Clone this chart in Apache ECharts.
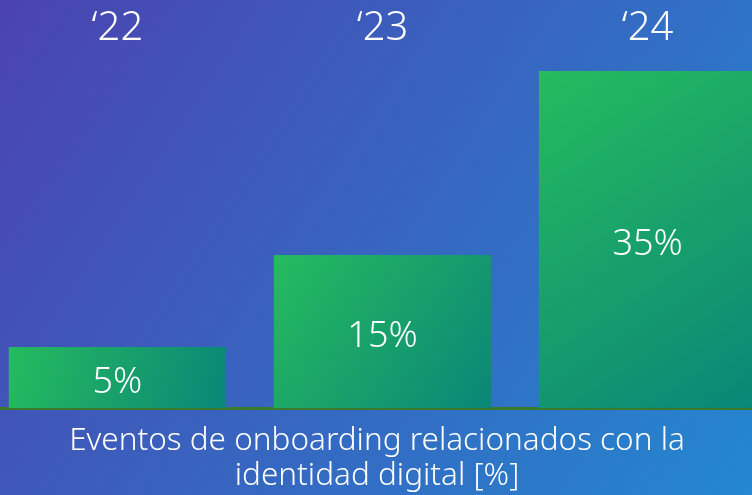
<!DOCTYPE html>
<html lang="es">
<head>
    <meta charset="UTF-8">
    <title>onboarding</title>
    <script src="https://cdn.jsdelivr.net/npm/echarts@6/dist/echarts.min.js"></script>
    <style>
        html,body{margin:0;padding:0;overflow:hidden}
        #chart{width:752px;height:495px}
    </style>
</head>
<body>
    <div id="chart"></div>
    <script>
        var years = ['\u201822', '\u201823', '\u201824'];
        var values = [5, 15, 35];
        var caption = 'Eventos de onboarding relacionados con la\nidentidad digital [%]';

        var fontFam = '"Noto Sans", "Open Sans", sans-serif';
        var mychart = echarts.init(document.getElementById('chart'));

        //barras desde el minimo del eje hasta el valor, con el año arriba
        function renderBar(params, api) {
            var i = api.value(0);
            var top = api.coord([i, api.value(1)]);
            var bottom = api.coord([i, -1.63]);
            var w = api.size([0.82, 0])[0];
            return {
                type: 'group',
                children: [
                    {
                        type: 'rect',
                        shape: {x: top[0] - w / 2, y: top[1], width: w, height: bottom[1] - top[1]},
                        style: {
                            fill: new echarts.graphic.LinearGradient(0, 0, 1, 1, [
                                {offset: 0, color: '#26bb5e'},
                                {offset: 1, color: '#0a8678'}
                            ])
                        },
                        textContent: {
                            style: {
                                text: api.value(1) + '%',
                                fill: '#ffffff',
                                fontSize: 36,
                                fontWeight: 300,
                                fontFamily: fontFam
                            }
                        },
                        textConfig: {position: 'inside', offset: [0, 5]}
                    },
                    {
                        type: 'text',
                        x: top[0],
                        y: 29,
                        style: {
                            text: years[i],
                            fill: '#ffffff',
                            fontSize: 40,
                            fontWeight: 300,
                            fontFamily: fontFam,
                            align: 'center',
                            verticalAlign: 'middle'
                        }
                    }
                ]
            };
        }

        var option = {
            backgroundColor: {
                type: 'linear', x: 0, y: 0, x2: 1, y2: 1,
                colorStops: [
                    {offset: 0, color: '#4b43b0'},
                    {offset: 1, color: '#2487cf'}
                ]
            },
            title: {
                text: caption,
                left: 372,
                top: 419,
                textAlign: 'center',
                textStyle: {
                    color: '#ffffff',
                    fontSize: 31.5,
                    fontWeight: 300,
                    fontFamily: fontFam,
                    lineHeight: 35
                }
            },
            grid: {left: 0, right: 0, top: 71, bottom: 87},
            xAxis: {
                type: 'value',
                min: -0.443,
                max: 2.394,
                axisLine: {show: true, onZero: false, lineStyle: {color: '#3b7a2b', width: 3}},
                axisTick: {show: false},
                axisLabel: {show: false},
                splitLine: {show: false}
            },
            yAxis: {
                type: 'value',
                min: -1.63,
                max: 35,
                show: false,
                splitLine: {show: false}
            },
            series: [
                {
                    type: 'custom',
                    renderItem: renderBar,
                    clip: false,
                    data: values.map(function (v, i) { return [i, v]; }),
                    z: 3
                }
            ]
        };
        mychart.setOption(option);
    </script>
</body>
</html>
